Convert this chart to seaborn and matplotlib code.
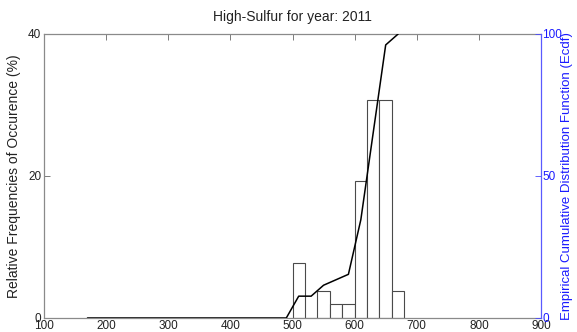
import matplotlib
matplotlib.use("Agg")
import matplotlib.pyplot as plt
import seaborn as sns

sns.set_theme(style="white")
plt.rcParams["font.family"] = ["Liberation Sans", "DejaVu Sans"]

# Histogram of values (relative frequency, %) in 20-unit bins
bin_edges = [500, 520, 540, 560, 580, 600, 620, 640, 660, 680]
bin_centers = [510, 530, 550, 570, 590, 610, 630, 650, 670]
freq_pct = [7.69, 0.0, 3.85, 1.92, 1.92, 19.23, 30.77, 30.77, 3.85]

# Empirical cumulative distribution, evaluated at bin centres
ecdf_x = [170, 190, 210, 230, 250, 270, 290, 310, 330, 350, 370, 390, 410,
          430, 450, 470, 490, 510, 530, 550, 570, 590, 610, 630, 650, 670]
ecdf_pct = [0, 0, 0, 0, 0, 0, 0, 0, 0, 0, 0, 0, 0,
            0, 0, 0, 0, 7.69, 7.69, 11.54, 13.46, 15.38, 34.62, 65.38, 96.15, 100]

x_ticks = [100, 200, 300, 400, 500, 600, 700, 800, 900]
left_ticks = [0, 20, 40]
right_ticks = [0, 50, 100]

W, H = 577, 332
fig = plt.figure(figsize=(W / 100, H / 100), dpi=100)
ax = fig.add_axes([44 / W, 1 - 318 / H, (541 - 44) / W, (318 - 34) / H])

sns.histplot(x=bin_centers, weights=freq_pct, bins=bin_edges, stat="count",
             ax=ax, color="white", edgecolor="#4a4a4a", linewidth=0.8, alpha=1)

ax.set_xlim(100, 900)
ax.set_ylim(0, 40)
ax.set_xticks(x_ticks)
ax.set_yticks(left_ticks)
ax.set_xlabel("")
ax.set_ylabel("Relative Frequencies of Occurence (%)", fontsize=10, color="#222222")
ax.yaxis.set_label_coords(-0.046, 0.5)
ax.set_title("High-Sulfur for year: 2011", fontsize=10, color="#222222", pad=9)
ax.tick_params(axis="both", direction="in", length=4, width=0.6, color="#666666",
               labelsize=8.5, labelcolor="#222222", pad=2)
ax.tick_params(axis="x", top=True, pad=1.5)
for side in ["left", "bottom", "top"]:
    ax.spines[side].set_color("#8a8a8a")
    ax.spines[side].set_linewidth(0.9)

ax2 = ax.twinx()
sns.lineplot(x=ecdf_x, y=ecdf_pct, ax=ax2, color="black", linewidth=1.1)
ax2.set_ylim(0, 100)
ax2.set_yticks(right_ticks)
ax2.set_ylabel("Empirical Cumulative Distribution Function (Ecdf)", fontsize=9.5,
               color="#1a1aff")
ax2.yaxis.set_label_coords(1.041, 0.5)
ax2.tick_params(axis="y", direction="in", length=4, width=0.6, color="#4a4aff",
                labelsize=8.5, labelcolor="#1a1aff", pad=1)
for side in ["left", "bottom", "top"]:
    ax2.spines[side].set_visible(False)
ax2.spines["right"].set_color("#5a5aff")
ax2.spines["right"].set_linewidth(0.9)
ax.spines["right"].set_visible(False)

fig.savefig("out.png", dpi=100)
